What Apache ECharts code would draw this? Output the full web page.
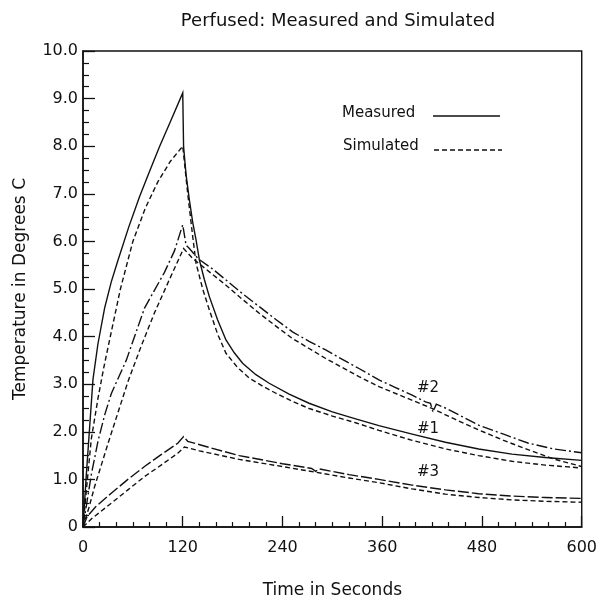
<!DOCTYPE html>
<html>
<head>
<meta charset="utf-8">
<script src="https://cdn.jsdelivr.net/npm/echarts@6/dist/echarts.min.js"></script>
<style>
html,body{margin:0;padding:0;background:#fff;}
#chart{width:600px;height:604px;}
</style>
</head>
<body>
<div id="chart"></div>
<script>
// ---- Data (time in seconds, temperature in degrees C) ----
const xTicks = [0, 120, 240, 360, 480, 600];
const yTickLabels = ['0', '1.0', '2.0', '3.0', '4.0', '5.0', '6.0', '7.0', '8.0', '9.0', '10.0'];

// #1 measured (solid)
const m1T = [0, 4, 8, 12, 18, 26, 34, 42, 55, 68, 80, 92, 106, 120, 121, 124, 128, 132, 136, 140, 146, 152, 162, 172, 182, 192, 208, 224, 248, 272, 300, 328, 356, 396, 436, 476, 516, 556, 600];
const m1V = [0, 1.1, 2.1, 3.1, 3.85, 4.6, 5.15, 5.6, 6.3, 6.94, 7.47, 7.99, 8.55, 9.12, 7.99, 7.4, 6.87, 6.4, 6.03, 5.61, 5.2, 4.84, 4.35, 3.93, 3.66, 3.44, 3.2, 3.02, 2.79, 2.6, 2.42, 2.27, 2.13, 1.95, 1.78, 1.64, 1.53, 1.46, 1.4];
// #1 simulated (dashed)
const s1T = [0, 5, 10, 18, 25, 32, 45, 60, 75, 90, 105, 120, 121, 126, 132, 136, 144, 152, 162, 172, 186, 200, 216, 232, 252, 272, 300, 328, 356, 396, 436, 476, 516, 556, 600];
const s1V = [0, 0.95, 1.85, 2.7, 3.35, 3.93, 5.0, 6.0, 6.7, 7.25, 7.68, 8.0, 7.96, 7.0, 6.1, 5.54, 5.0, 4.56, 4.05, 3.65, 3.35, 3.13, 2.96, 2.81, 2.64, 2.49, 2.33, 2.19, 2.03, 1.82, 1.64, 1.5, 1.38, 1.3, 1.24];
// #2 measured (dash-dot)
const m2T = [0, 5, 10, 18, 26, 34, 52, 74, 98, 110, 120, 124, 126, 128, 139, 156, 172, 192, 212, 232, 252, 272, 292, 312, 332, 356, 376, 396, 412, 418, 421, 425, 436, 456, 476, 506, 536, 566, 600];
const m2V = [0, 0.55, 1.1, 1.8, 2.35, 2.8, 3.5, 4.6, 5.35, 5.8, 6.35, 5.92, 5.95, 5.85, 5.63, 5.42, 5.19, 4.9, 4.63, 4.36, 4.1, 3.9, 3.72, 3.52, 3.33, 3.09, 2.93, 2.77, 2.63, 2.6, 2.42, 2.58, 2.5, 2.32, 2.14, 1.95, 1.76, 1.64, 1.56];
// #2 simulated (dashed)
const s2T = [0, 7, 14, 30, 54, 70, 86, 104, 121, 132, 152, 172, 192, 212, 232, 252, 272, 292, 312, 332, 356, 388, 420, 448, 476, 506, 536, 566, 600];
const s2V = [0, 0.4, 0.85, 1.75, 3.05, 3.8, 4.5, 5.2, 5.85, 5.64, 5.36, 5.08, 4.78, 4.49, 4.22, 3.96, 3.75, 3.54, 3.35, 3.16, 2.95, 2.72, 2.49, 2.26, 2.04, 1.82, 1.62, 1.43, 1.27];
// #3 measured (long dash)
const m3T = [0, 5, 15, 34, 54, 74, 94, 114, 121, 126, 150, 188, 240, 275, 280, 284, 320, 356, 396, 436, 476, 516, 556, 600];
const m3V = [0, 0.22, 0.42, 0.71, 1.0, 1.27, 1.52, 1.76, 1.9, 1.8, 1.68, 1.5, 1.33, 1.23, 1.17, 1.22, 1.1, 1.0, 0.88, 0.78, 0.7, 0.65, 0.62, 0.6];
// #3 simulated (dashed)
const s3T = [0, 10, 34, 54, 74, 94, 114, 122, 140, 188, 240, 280, 320, 356, 396, 436, 476, 516, 556, 600];
const s3V = [0, 0.17, 0.5, 0.78, 1.06, 1.3, 1.55, 1.68, 1.6, 1.42, 1.27, 1.15, 1.03, 0.93, 0.8, 0.69, 0.62, 0.57, 0.54, 0.52];

// curve annotations (data coordinates)
const curveLabels = ['#2', '#1', '#3'];
const curveLabelT = [415, 415, 415];
const curveLabelV = [2.92, 2.06, 1.16];

const legendNames = ['Measured', 'Simulated'];

// ---- Chart ----
const FONT = 'DejaVu Sans';
const INK = '#111';
function pairs(t, v) { return t.map((x, i) => [x, v[i]]); }
function lineSeries(name, t, v, dash) {
  return {
    name: name, type: 'line', data: pairs(t, v), showSymbol: false, symbol: 'none',
    silent: true, animation: false,
    lineStyle: { color: INK, width: 1.4, type: dash, join: 'miter' }
  };
}
const DASH = [5, 3];
const DASHDOT = [11, 3, 2, 3];
const LONGDASH = [11, 3];

const chart = echarts.init(document.getElementById('chart'), null, { renderer: 'canvas' });
const option = {
  backgroundColor: '#fff',
  animation: false,
  title: {
    text: 'Perfused: Measured and Simulated',
    left: 333, top: 7, textAlign: 'center',
    textStyle: { fontFamily: FONT, fontSize: 18, fontWeight: 'normal', color: INK }
  },
  grid: { left: 83, right: 17, top: 51, bottom: 77, show: true, borderColor: INK, borderWidth: 1.4, backgroundColor: 'transparent' },
  xAxis: {
    type: 'value', min: 0, max: 600, interval: 120,
    name: 'Time in Seconds', nameLocation: 'middle', nameGap: 55,
    nameTextStyle: { fontFamily: FONT, fontSize: 17, color: INK },
    axisLine: { show: true, lineStyle: { color: INK, width: 1.5 } },
    axisTick: { show: true, inside: true, length: 11, lineStyle: { color: INK, width: 1.3 } },
    minorTick: { show: true, splitNumber: 6, length: 5, lineStyle: { color: INK, width: 1.2 } },
    splitLine: { show: false },
    axisLabel: { margin: 13, fontFamily: FONT, fontSize: 16, color: INK,
      formatter: v => (xTicks.indexOf(v) >= 0 ? String(v) : '') }
  },
  yAxis: {
    type: 'value', min: 0, max: 10, interval: 1,
    name: 'Temperature in Degrees C', nameLocation: 'middle', nameGap: 54, nameRotate: 90,
    nameTextStyle: { fontFamily: FONT, fontSize: 17, color: INK },
    axisLine: { show: true, lineStyle: { color: INK, width: 1.5 } },
    axisTick: { show: true, inside: true, length: 12, lineStyle: { color: INK, width: 1.3 } },
    minorTick: { show: true, splitNumber: 4, length: 6, lineStyle: { color: INK, width: 1.2 } },
    splitLine: { show: false },
    axisLabel: { margin: 5, fontFamily: FONT, fontSize: 16, color: INK,
      formatter: v => yTickLabels[Math.round(v)] }
  },
  series: [
    lineSeries('#1 Measured', m1T, m1V, 'solid'),
    lineSeries('#1 Simulated', s1T, s1V, DASH),
    lineSeries('#2 Measured', m2T, m2V, DASHDOT),
    lineSeries('#2 Simulated', s2T, s2V, DASH),
    lineSeries('#3 Measured', m3T, m3V, LONGDASH),
    lineSeries('#3 Simulated', s3T, s3V, DASH)
  ]
};
chart.setOption(option);

// legend and curve labels as graphics
const g = [
  { type: 'text', left: 342, top: 106, style: { text: legendNames[0], font: '15px "DejaVu Sans"', fill: INK } },
  { type: 'line', shape: { x1: 433, y1: 116, x2: 500, y2: 116 }, style: { stroke: INK, lineWidth: 1.4 } },
  { type: 'text', left: 343, top: 139, style: { text: legendNames[1], font: '15px "DejaVu Sans"', fill: INK } },
  { type: 'line', shape: { x1: 434, y1: 150, x2: 502, y2: 150 }, style: { stroke: INK, lineWidth: 1.4, lineDash: DASH } }
];
curveLabels.forEach((txt, i) => {
  const p = chart.convertToPixel({ gridIndex: 0 }, [curveLabelT[i], curveLabelV[i]]);
  g.push({ type: 'text', x: p[0], y: p[1],
    style: { text: txt, font: '15px "DejaVu Sans"', fill: INK, align: 'center', verticalAlign: 'middle' } });
});
chart.setOption({ graphic: g });
</script>
</body>
</html>
